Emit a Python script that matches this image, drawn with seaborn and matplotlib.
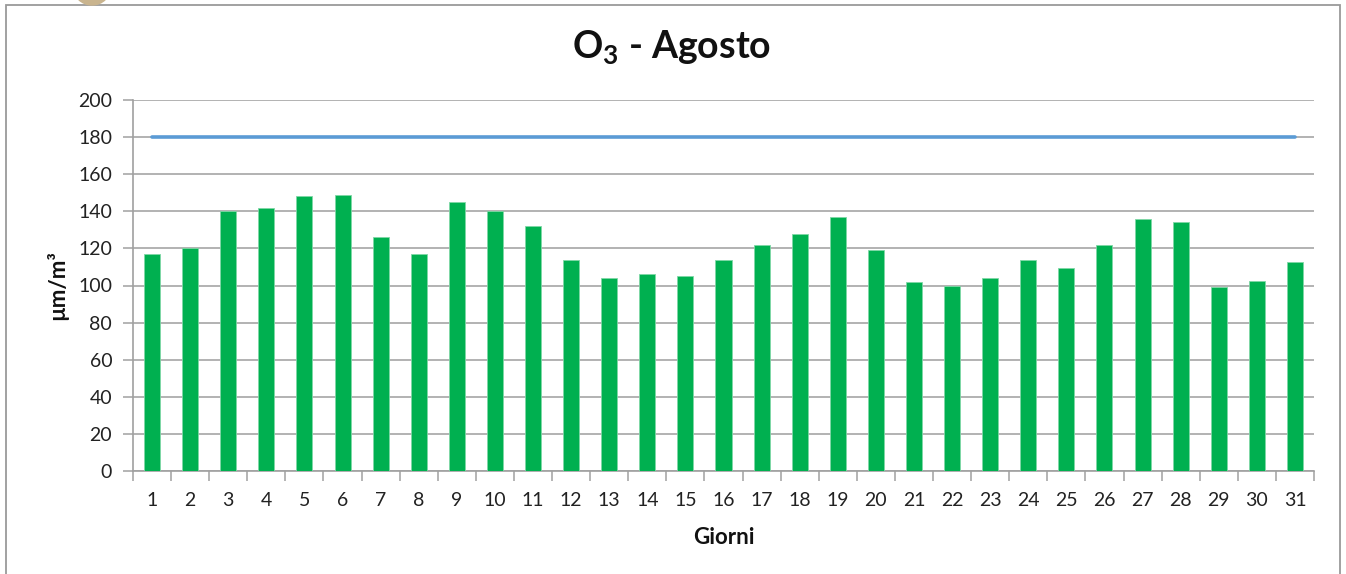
import numpy as np
import pandas as pd
import seaborn as sns
import matplotlib.pyplot as plt
from matplotlib.patches import Rectangle, Ellipse
from matplotlib.ticker import MultipleLocator

# dati: media massima giornaliera O3, agosto
giorni = list(range(1, 32))
o3_valori = [117, 120, 140, 142, 148, 149, 126, 117, 145, 140, 132,
             114, 104, 106, 105, 114, 122, 128, 137, 119, 102,
             100, 104, 114, 109.5, 122, 136, 134, 99, 102.5, 112.5]
soglia = [180] * 31
titolo = r"O$_\mathbf{3}$ - Agosto"
etichetta_x = "Giorni"
etichetta_y = "µm/m³"
y_ticks = list(range(0, 201, 20))

sns.set_style("white")
plt.rcParams['font.family'] = ['Lato', 'DejaVu Sans']
plt.rcParams['mathtext.fontset'] = 'custom'
plt.rcParams['mathtext.rm'] = 'Lato'
plt.rcParams['mathtext.bf'] = 'Lato:bold'

df = pd.DataFrame({"giorno": giorni, "o3": o3_valori, "soglia": soglia})

fig = plt.figure(figsize=(13.46, 5.74), dpi=100)
ax = fig.add_axes([133/1346, 1 - 471/574, (1314-133)/1346, (471-100)/574])

sns.barplot(data=df, x="giorno", y="o3", native_scale=True, width=0.42,
            color="#00B050", saturation=1, edgecolor="#7FD8A6", linewidth=0.6,
            ax=ax, zorder=3)
sns.lineplot(data=df, x="giorno", y="soglia", color="#5B9BD5", linewidth=2.6,
             ax=ax, zorder=4)

ax.set_xlim(0.5, 31.5)
ax.set_ylim(0, 200)
ax.set_yticks(y_ticks)
ax.set_xticks(giorni)
ax.set_xticklabels([str(g) for g in giorni])
ax.xaxis.set_minor_locator(MultipleLocator(1, offset=0.5))
ax.yaxis.grid(True, color="#A6A6A6", linewidth=1.2, zorder=0)
ax.set_axisbelow(True)

for s in ["top", "right"]:
    ax.spines[s].set_visible(False)
for s in ["left", "bottom"]:
    ax.spines[s].set_color("#A0A0A0")
    ax.spines[s].set_linewidth(1.2)

ax.tick_params(axis="x", which="major", length=0, pad=15, labelsize=14, labelcolor="#222222")
ax.tick_params(axis="x", which="minor", length=7, width=1.1, color="#A0A0A0", bottom=True)
ax.tick_params(axis="y", which="major", length=7, width=1.1, color="#A0A0A0", left=True,
               pad=8, labelsize=14, labelcolor="#222222")

ax.set_xlabel(etichetta_x, fontsize=16, fontweight="bold", labelpad=13, color="#111111")
ax.set_ylabel(etichetta_y, fontsize=16, fontweight="bold", labelpad=7, color="#111111")
fig.text(672/1346, 1 - 48/574, titolo, ha="center", va="center", fontsize=27,
         fontweight="bold", color="#111111")

# cornice del grafico e logo tagliato in alto
fig.patches.append(Rectangle((6/1346, -0.01), (1340-6)/1346, 1 - 5/574 + 0.01,
                             transform=fig.transFigure, fill=False,
                             edgecolor="#9A9A9A", linewidth=1.3))
fig.patches.append(Ellipse((92/1346, 1 + 14/574), 38/1346, 38/574,
                           transform=fig.transFigure, color="#C9B48E"))

fig.savefig("out.png", dpi=100)
